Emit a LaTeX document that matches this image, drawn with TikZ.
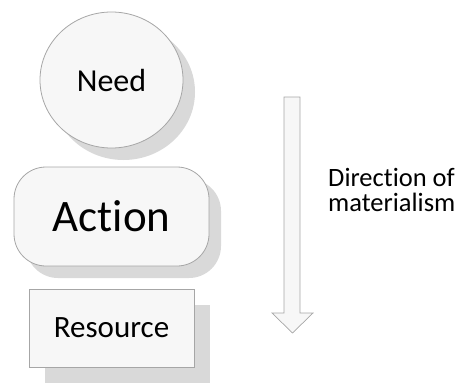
\documentclass[tikz,border=0pt]{standalone}
\usepackage{fontspec}
\setmainfont{Carlito}[RawFeature=-liga]
\usepackage{xcolor}
\usepackage{tikz}
\usetikzlibrary{shapes,shadows,positioning}
\definecolor{boxline}{HTML}{A6A6A6}
\definecolor{boxfill}{HTML}{F7F7F7}
\definecolor{shade}{HTML}{D9D9D9}

\begin{document}
\begin{tikzpicture}[x=1pt, y=-1pt,
		stage/.style={draw=boxline, fill=boxfill, line width=0.8pt, inner sep=0pt},
		stageshadow/.style={drop shadow={shadow xshift=#1, shadow yshift=-#1, fill=shade, opacity=1}}]
				\useasboundingbox (0,0) rectangle (457,383);

				\node[stage, ellipse, minimum width=143pt, minimum height=136pt, stageshadow=12pt, font=\fontsize{32}{36}\selectfont] (need) at (111.5,80) {Need};
				\node[stage, rectangle, minimum width=195pt, minimum height=99pt, rounded corners=32pt, stageshadow=12pt, font=\fontsize{45}{50}\selectfont] (action) at (111.5,216.5) {Action};
				\node[stage, rectangle, minimum width=165pt, minimum height=78pt, stageshadow=16pt, font=\fontsize{31}{36}\selectfont] (resource) at (111.5,328) {Resource};

				\draw[boxline, fill=boxfill, line width=0.7pt] (284,97) -- (300,97) -- (300,313) -- (313,313) -- (292.5,333) -- (272,313) -- (284,313) -- cycle;

				\node[anchor=west, align=left, inner sep=0pt, font=\fontsize{26.5}{25}\selectfont] (direction) at (328,190) {Direction of\\materialism};
			\end{tikzpicture}
\end{document}
